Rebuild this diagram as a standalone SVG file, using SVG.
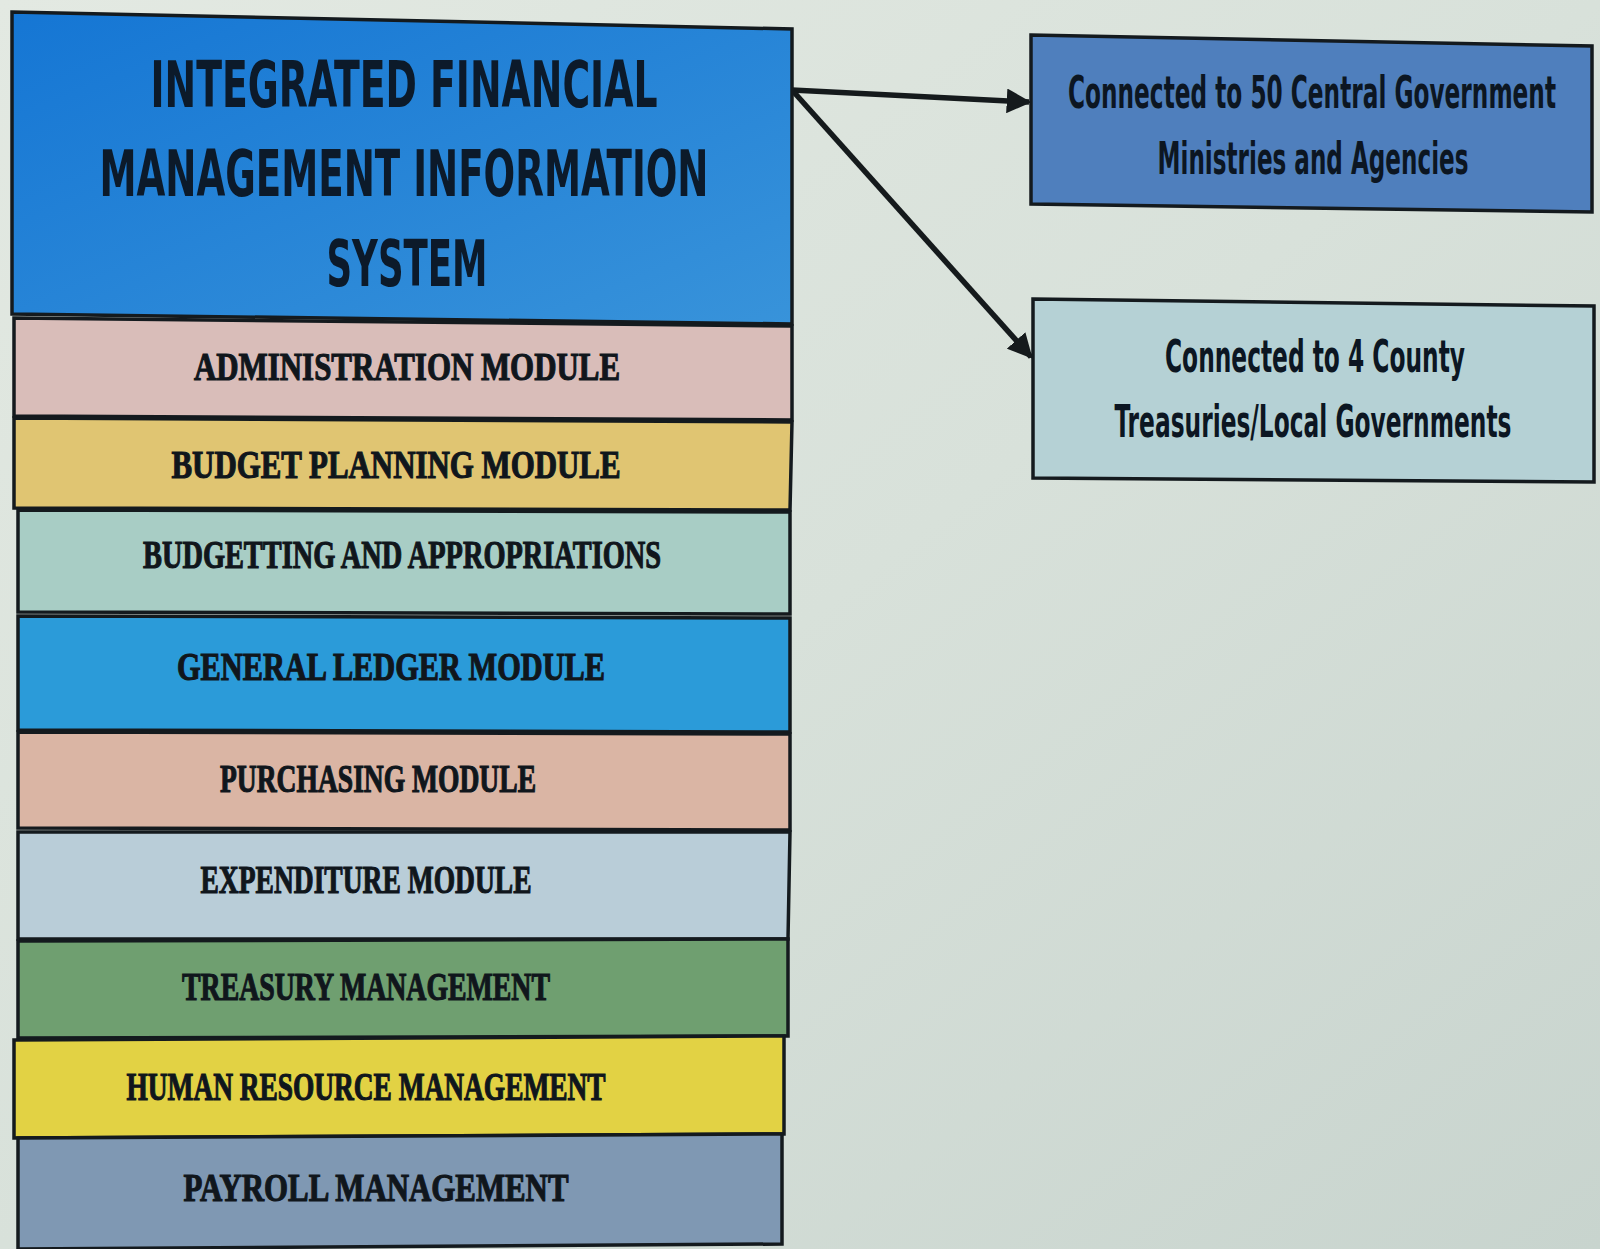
<svg xmlns="http://www.w3.org/2000/svg" width="1600" height="1249" viewBox="0 0 1600 1249">
<defs>
<linearGradient id="bg" x1="0" y1="0" x2="1" y2="1">
<stop offset="0" stop-color="#e3e9e2"/>
<stop offset="0.5" stop-color="#d8e1da"/>
<stop offset="1" stop-color="#c8d4ce"/>
</linearGradient>
<linearGradient id="mainfill" x1="0" y1="0" x2="1" y2="1">
<stop offset="0" stop-color="#1576d4"/>
<stop offset="1" stop-color="#3893da"/>
</linearGradient>
<marker id="ah" viewBox="0 0 10 10" refX="9" refY="5" markerWidth="4.5" markerHeight="4.5" orient="auto" markerUnits="strokeWidth">
<path d="M0,0 L10,5 L0,10 z" fill="#151a1c"/>
</marker>
<style>
.box{stroke:#141a1e;stroke-width:3.5}
.mod{font-family:"Liberation Serif","DejaVu Serif",serif;font-weight:bold;font-size:40px;fill:#10161c;stroke:#10161c;stroke-width:1.2}
.title{font-family:"DejaVu Sans Condensed","DejaVu Sans","Liberation Sans",sans-serif;font-weight:bold;font-size:64px;fill:#0c1a2a}
.side{font-family:"DejaVu Sans Condensed","DejaVu Sans","Liberation Sans",sans-serif;font-weight:bold;font-size:25px;fill:#0c1622}
.conn{stroke:#151a1c;stroke-width:5.5;fill:none}
</style>
</defs>
<rect x="0" y="0" width="1600" height="1249" fill="url(#bg)"/>

<g id="connectors">
<line class="conn" x1="792" y1="90" x2="1029" y2="102" marker-end="url(#ah)"/>
<line class="conn" x1="792" y1="90" x2="1031" y2="357" marker-end="url(#ah)"/>
</g>

<g id="ifmis">
<polygon class="box" fill="url(#mainfill)" points="12,12 792,29 792,324 12,314"/>
<text class="title" x="404" y="107" text-anchor="middle" textLength="507" lengthAdjust="spacingAndGlyphs">INTEGRATED FINANCIAL</text>
<text class="title" x="404" y="196" text-anchor="middle" textLength="609" lengthAdjust="spacingAndGlyphs">MANAGEMENT INFORMATION</text>
<text class="title" x="407" y="286" text-anchor="middle" textLength="161" lengthAdjust="spacingAndGlyphs">SYSTEM</text>
</g>

<g id="admin">
<polygon class="box" fill="#d9bdb9" points="14,318 792,326 792,420 14,416"/>
<text class="mod" x="407" y="380" text-anchor="middle" textLength="426" lengthAdjust="spacingAndGlyphs">ADMINISTRATION MODULE</text>
</g>
<g id="budget-planning">
<polygon class="box" fill="#e0c572" points="14,418 792,422 790,510 14,508"/>
<text class="mod" x="396" y="478" text-anchor="middle" textLength="449" lengthAdjust="spacingAndGlyphs">BUDGET PLANNING MODULE</text>
</g>
<g id="budgetting">
<polygon class="box" fill="#a8cdc5" points="18,510 790,512 790,614 18,612"/>
<text class="mod" x="402" y="568" text-anchor="middle" textLength="518" lengthAdjust="spacingAndGlyphs">BUDGETTING AND APPROPRIATIONS</text>
</g>
<g id="general-ledger">
<polygon class="box" fill="#2b9bd9" points="18,616 790,618 790,732 18,730"/>
<text class="mod" x="391" y="680" text-anchor="middle" textLength="428" lengthAdjust="spacingAndGlyphs">GENERAL LEDGER MODULE</text>
</g>
<g id="purchasing">
<polygon class="box" fill="#dab5a4" points="18,732 790,734 790,830 18,828"/>
<text class="mod" x="378" y="792" text-anchor="middle" textLength="316" lengthAdjust="spacingAndGlyphs">PURCHASING MODULE</text>
</g>
<g id="expenditure">
<polygon class="box" fill="#b9cdd8" points="18,832 790,832 788,939 18,939"/>
<text class="mod" x="366" y="893" text-anchor="middle" textLength="331" lengthAdjust="spacingAndGlyphs">EXPENDITURE MODULE</text>
</g>
<g id="treasury">
<polygon class="box" fill="#6f9f70" points="18,941 788,939 788,1036 18,1038"/>
<text class="mod" x="366" y="1000" text-anchor="middle" textLength="368" lengthAdjust="spacingAndGlyphs">TREASURY MANAGEMENT</text>
</g>
<g id="human-resource">
<polygon class="box" fill="#e2d244" points="14,1040 784,1036 784,1134 14,1138"/>
<text class="mod" x="366" y="1100" text-anchor="middle" textLength="479" lengthAdjust="spacingAndGlyphs">HUMAN RESOURCE MANAGEMENT</text>
</g>
<g id="payroll">
<polygon class="box" fill="#7f98b3" points="18,1138 782,1134 782,1244 18,1249"/>
<text class="mod" x="376" y="1201" text-anchor="middle" textLength="385" lengthAdjust="spacingAndGlyphs">PAYROLL MANAGEMENT</text>
</g>

<g id="central-gov">
<polygon class="box" fill="#4f7fbd" points="1031,35 1592,46 1592,212 1031,204"/>
<text class="side" transform="translate(1312,108) scale(1,1.75)" x="0" y="0" text-anchor="middle" textLength="488" lengthAdjust="spacingAndGlyphs">Connected to 50 Central Government</text>
<text class="side" transform="translate(1313,174) scale(1,1.75)" x="0" y="0" text-anchor="middle" textLength="311" lengthAdjust="spacingAndGlyphs">Ministries and Agencies</text>
</g>
<g id="county">
<polygon class="box" fill="#b5d1d5" points="1033,299 1594,306 1594,482 1033,478"/>
<text class="side" transform="translate(1315,372) scale(1,1.75)" x="0" y="0" text-anchor="middle" textLength="300" lengthAdjust="spacingAndGlyphs">Connected to 4 County</text>
<text class="side" transform="translate(1313,437) scale(1,1.75)" x="0" y="0" text-anchor="middle" textLength="397" lengthAdjust="spacingAndGlyphs">Treasuries/Local Governments</text>
</g>
</svg>
